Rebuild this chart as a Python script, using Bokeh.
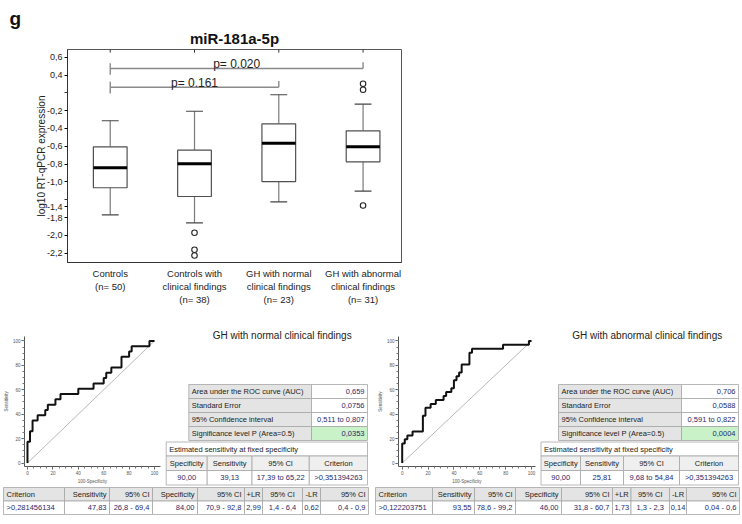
import numpy as np
from bokeh.plotting import figure
from bokeh.models import Range1d, FixedTicker, SingleIntervalTicker
from bokeh.layouts import column, row
from bokeh.embed import file_html
from bokeh.resources import INLINE
from bokeh.core.properties import value

FONT = "'Liberation Sans', Arial, sans-serif"

# ---------------- data: box plot ----------------
fig_letter = "g"
main_title = "miR-181a-5p"
group_pos = [1, 2, 3, 4]
group_labels = ["Controls\n(n= 50)",
                "Controls with\nclinical findings\n(n= 38)",
                "GH with normal\nclinical findings\n(n= 23)",
                "GH with abnormal\nclinical findings\n(n= 31)"]
lower_whisker = [-1.370, -1.460, -1.224, -1.104]
q1 = [-1.066, -1.164, -0.996, -0.774]
median = [-0.842, -0.797, -0.565, -0.606]
q3 = [-0.606, -0.644, -0.347, -0.426]
upper_whisker = [-0.313, -0.206, -0.021, -0.127]
outlier_group = [2, 2, 2, 4, 4, 4]
outlier_value = [-1.572, -1.763, -1.827, 0.102, 0.035, -1.265]

ytick_pos = [0.4, 0.2, -0.2, -0.4, -0.6, -0.8, -1.0, -1.28, -1.4, -1.6, -1.8]
ytick_labels = ["0,6", "0,4", "-0,2", "-0,4", "-0,6", "-0,8", "-1,0", "-1,4", "-1,8", "-2,0", "-2,2"]
ytick_unlabelled = [0.0, -1.2]

cmp_from = [1, 1]
cmp_to = [4, 3]
cmp_y = [0.274, 0.064]
cmp_text = ["p= 0.020", "p= 0.161"]

# ---------------- data: ROC curves ----------------
roc_normal_fpr = [0, 0, 2, 2, 4, 4, 8, 8, 14, 14, 16, 16, 22, 22, 26, 26, 40, 40, 52, 52,
                  60, 60, 62, 62, 66, 66, 74, 74, 80, 80, 82, 82, 96, 96, 100]
roc_normal_tpr = [0, 17.4, 17.4, 26.1, 26.1, 34.8, 34.8, 39.1, 39.1, 43.5, 43.5, 47.8, 47.8,
                  52.2, 52.2, 56.5, 56.5, 60.9, 60.9, 65.2, 65.2, 69.6, 69.6, 73.9, 73.9,
                  78.3, 78.3, 87.0, 87.0, 91.3, 91.3, 95.7, 95.7, 100, 100]
roc_abnormal_fpr = [0, 0, 2, 2, 4, 4, 8, 8, 16, 16, 18, 18, 22, 22, 26, 26, 32, 32, 34, 34,
                    38, 38, 40, 40, 42, 42, 44, 44, 46, 46, 52, 52, 54, 54, 78, 78, 98, 98, 100]
roc_abnormal_tpr = [0, 16.1, 16.1, 19.4, 19.4, 22.6, 22.6, 25.8, 25.8, 38.7, 38.7, 45.2, 45.2,
                    48.4, 48.4, 51.6, 51.6, 54.8, 54.8, 58.1, 58.1, 61.3, 61.3, 67.7, 67.7,
                    71.0, 71.0, 74.2, 74.2, 80.6, 80.6, 90.3, 90.3, 93.5, 93.5, 96.8, 96.8, 100, 100]
diag = [0, 100]

# ---------------- data: tables ----------------
panel_titles = ["GH with normal clinical findings", "GH with abnormal clinical findings"]
auc_labels = ["Area under the ROC curve (AUC)", "Standard Error",
              "95% Confidence interval", "Significance level P (Area=0.5)"]
auc_normal = ["0,659", "0,0756", "0,511 to 0,807", "0,0353"]
auc_abnormal = ["0,706", "0,0588", "0,591 to 0,822", "0,0004"]
fixed_title = "Estimated sensitivity at fixed specificity"
fixed_header = ["Specificity", "Sensitivity", "95% CI", "Criterion"]
fixed_normal = ["90,00", "39,13", "17,39 to 65,22", ">0,351394263"]
fixed_abnormal = ["90,00", "25,81", "9,68 to 54,84", ">0,351394263"]
crit_header = ["Criterion", "Sensitivity", "95% CI", "Specificity", "95% CI", "+LR", "95% CI", "-LR", "95% CI"]
crit_normal = [">0,281456134", "47,83", "26,8 - 69,4", "84,00", "70,9 - 92,8", "2,99", "1,4 - 6,4", "0,62", "0,4 - 0,9"]
crit_abnormal = [">0,122203751", "93,55", "78,6 - 99,2", "46,00", "31,8 - 60,7", "1,73", "1,3 - 2,3", "0,14", "0,04 - 0,6"]

# ---------------- styles ----------------
BORDER = "#a6a6a6"
VAL = "#1f2a6b"
TXT = "#222222"
GREY = "#e4e4e4"
HEAD = "#efefef"
GREEN = "#c9f2c9"


def no_align(f):
    try:
        f.frame_align = False
    except Exception:
        pass
    return f


def canvas(width, height, xr, yr):
    f = figure(width=width, height=height, x_range=Range1d(*xr), y_range=Range1d(*yr),
               output_backend="svg", toolbar_location=None, min_border=0,
               x_axis_type=None, y_axis_type=None)
    f.outline_line_color = None
    return no_align(f)


# ============ header (letter + title) ============
head = canvas(742, 47, (0, 742), (47, 0))
head.text(x=[9], y=[18], text=[fig_letter], text_align="left", text_baseline="alphabetic",
          text_font=value(FONT), text_font_size="19px", text_font_style="bold", text_color="#111111")
head.text(x=[234], y=[37.5], text=[main_title], text_align="center", text_baseline="alphabetic",
          text_font=value(FONT), text_font_size="15px", text_font_style="bold", text_color="#111111")

# ============ top: box plot ============
Y0, Y1 = -1.9056, 0.4876
top = figure(width=742, height=275, x_range=Range1d(0.493, 4.456), y_range=Range1d(Y0, Y1),
             output_backend="svg", toolbar_location=None,
             min_border_left=67, min_border_right=341, min_border_top=2, min_border_bottom=60)
no_align(top)
top.grid.visible = False
top.outline_line_color = "#555555"

xa = top.xaxis[0]
xa.ticker = FixedTicker(ticks=group_pos)
xa.major_label_overrides = {k: v for k, v in zip(group_pos, group_labels)}
xa.major_tick_in = 0
xa.major_tick_out = 0
xa.minor_tick_line_color = None
xa.major_label_text_font = FONT
xa.major_label_text_font_size = "9.5px"
xa.major_label_text_color = TXT
xa.major_label_standoff = 5
xa.axis_line_color = "#333333"

ya = top.yaxis[0]
ya.ticker = FixedTicker(ticks=ytick_pos, minor_ticks=ytick_unlabelled)
ya.major_label_overrides = {k: v for k, v in zip(ytick_pos, ytick_labels)}
ya.major_tick_in = 0
ya.major_tick_out = 3
ya.minor_tick_in = 0
ya.minor_tick_out = 3
ya.minor_tick_line_color = "#333333"
ya.major_label_text_font = FONT
ya.major_label_text_font_size = "9px"
ya.major_label_text_color = TXT
ya.major_label_standoff = 2
ya.axis_line_color = "#333333"
ya.axis_label = "log10 RT-qPCR expression"
ya.axis_label_text_font = FONT
ya.axis_label_text_font_size = "10px"
ya.axis_label_text_font_style = "normal"
ya.axis_label_text_color = TXT
ya.axis_label_standoff = -3

xs = np.array(group_pos, dtype=float)
half = 0.2
cap = 0.1
WH = "#7a7a7a"
top.segment(x0=xs, x1=xs, y0=q3, y1=upper_whisker, line_color=WH, line_width=1.2)
top.segment(x0=xs, x1=xs, y0=q1, y1=lower_whisker, line_color=WH, line_width=1.2)
top.segment(x0=xs - cap, x1=xs + cap, y0=upper_whisker, y1=upper_whisker, line_color="#444444", line_width=1.2)
top.segment(x0=xs - cap, x1=xs + cap, y0=lower_whisker, y1=lower_whisker, line_color="#444444", line_width=1.2)
top.quad(left=xs - half, right=xs + half, bottom=q1, top=q3, fill_color="white",
         line_color="#505050", line_width=1.2)
top.segment(x0=xs - half, x1=xs + half, y0=median, y1=median, line_color="black", line_width=3)
top.scatter(x=outlier_group, y=outlier_value, marker="circle", size=5.5, fill_color="white",
            line_color="#222222", line_width=1.1)
# small inward ticks on the top frame edge at each group
top.segment(x0=xs, x1=xs, y0=[Y1] * 4, y1=[Y1 - 0.035] * 4, line_color="#333333", line_width=1)

cf = np.array(cmp_from, dtype=float)
ct = np.array(cmp_to, dtype=float)
cy = np.array(cmp_y)
BR = "#8a8a8a"
top.segment(x0=cf, x1=ct, y0=cy, y1=cy, line_color=BR, line_width=1.4)
top.segment(x0=cf, x1=cf, y0=cy + 0.06, y1=cy - 0.07, line_color=BR, line_width=1.4)
top.segment(x0=ct, x1=ct, y0=cy + 0.07, y1=cy, line_color=BR, line_width=1.4)
top.text(x=(cf + ct) / 2, y=cy + 0.05, text=cmp_text, text_align="center", text_baseline="alphabetic",
         text_font=value(FONT), text_font_size="12px", text_color="#222222")


# ============ bottom: ROC curves ============
def roc_figure(width, border_left, xr, fpr, tpr):
    f = figure(width=width, height=164, x_range=Range1d(*xr), y_range=Range1d(-2.82, 103.6),
               output_backend="svg", toolbar_location=None,
               min_border_left=border_left, min_border_right=3, min_border_top=14, min_border_bottom=18)
    no_align(f)
    f.grid.visible = False
    f.outline_line_color = None
    f.line(diag, diag, line_color="#9a9a9a", line_width=0.7)
    f.line(fpr, tpr, line_color="#111111", line_width=2)
    for ax in (f.xaxis[0], f.yaxis[0]):
        ax.ticker = SingleIntervalTicker(interval=20, num_minor_ticks=4)
        ax.axis_line_color = "#555555"
        ax.major_tick_line_color = "#555555"
        ax.minor_tick_line_color = "#777777"
        ax.major_tick_out = 3
        ax.major_tick_in = 0
        ax.minor_tick_out = 2
        ax.minor_tick_in = 0
        ax.major_label_text_font = FONT
        ax.major_label_text_font_size = "4.5px"
        ax.major_label_text_color = "#555555"
        ax.major_label_standoff = 1
        ax.axis_label_text_font = FONT
        ax.axis_label_text_font_size = "4.5px"
        ax.axis_label_text_font_style = "normal"
        ax.axis_label_text_color = "#555555"
        ax.axis_label_standoff = 1
    f.xaxis.axis_label = "100-Specificity"
    f.yaxis.axis_label = "Sensitivity"
    return f


def cell_row(f, edges, ytop, ybot, fills):
    n = len(edges) - 1
    f.quad(left=edges[:-1], right=edges[1:], top=[ytop] * n, bottom=[ybot] * n,
           fill_color=fills, line_color=BORDER, line_width=0.8)


def text_row(f, edges, y, texts, aligns, color, size="7.5px"):
    groups = {}
    for i, t in enumerate(texts):
        l, r = edges[i], edges[i + 1]
        a = aligns[i]
        x = l + 3 if a == "left" else (r - 3 if a == "right" else (l + r) / 2)
        groups.setdefault(a, ([], [], []))
        groups[a][0].append(x)
        groups[a][1].append(y)
        groups[a][2].append(t)
    for a, (gx, gy, gt) in groups.items():
        f.text(x=gx, y=gy, text=gt, text_align=a, text_baseline="middle",
               text_font=value(FONT), text_font_size=size, text_color=color)


auc_rows = [384, 398, 412, 426, 440]
fixed_rows = [441.5, 455.5, 470, 484.5]
crit_rows = [487, 500.5, 514]


def draw_tables(f, title, title_x, auc_cols, auc_vals, fixed_cols, fixed_vals):
    f.text(x=[title_x], y=[335], text=[title], text_align="center", text_baseline="middle",
           text_font=value(FONT), text_font_size="10px", text_color=TXT)
    for i in range(4):
        fills = [GREY, GREEN if i == 3 else "white"]
        cell_row(f, auc_cols, auc_rows[i], auc_rows[i + 1], fills)
        ym = (auc_rows[i] + auc_rows[i + 1]) / 2
        text_row(f, auc_cols[:2], ym, [auc_labels[i]], ["left"], TXT)
        text_row(f, auc_cols[1:], ym, [auc_vals[i]], ["right"], VAL)
    cell_row(f, [fixed_cols[0], fixed_cols[-1]], fixed_rows[0], fixed_rows[1], ["white"])
    text_row(f, [fixed_cols[0], fixed_cols[-1]], (fixed_rows[0] + fixed_rows[1]) / 2,
             [fixed_title], ["left"], TXT)
    cell_row(f, fixed_cols, fixed_rows[1], fixed_rows[2], [HEAD] * 4)
    text_row(f, fixed_cols, (fixed_rows[1] + fixed_rows[2]) / 2, fixed_header, ["center"] * 4, TXT)
    cell_row(f, fixed_cols, fixed_rows[2], fixed_rows[3], ["white"] * 4)
    text_row(f, fixed_cols, (fixed_rows[2] + fixed_rows[3]) / 2, fixed_vals, ["center"] * 4, VAL)


def draw_crit(f, cols, vals):
    cell_row(f, cols, crit_rows[0], crit_rows[1], [GREY] * 9)
    text_row(f, cols, (crit_rows[0] + crit_rows[1]) / 2, crit_header,
             ["left", "right", "right", "right", "right", "center", "center", "center", "right"], TXT)
    cell_row(f, cols, crit_rows[1], crit_rows[2], ["white"] * 9)
    text_row(f, cols, (crit_rows[1] + crit_rows[2]) / 2, vals,
             ["left", "right", "right", "right", "right", "center", "center", "center", "right"], VAL)


roc1 = roc_figure(163, 23, (-2.34, 104.7), roc_normal_fpr, roc_normal_tpr)
roc2 = roc_figure(166, 26, (-2.86, 103.1), roc_abnormal_fpr, roc_abnormal_tpr)

tab1 = canvas(209, 164, (163, 372), (486, 322))
draw_tables(tab1, panel_titles[0], 281.7, [188.3, 311, 367], auc_normal,
            [165.7, 206.7, 251.5, 308.8, 367], fixed_normal)
tab2 = canvas(204, 164, (538, 742), (486, 322))
draw_tables(tab2, panel_titles[1], 646.7, [558, 681, 738], auc_abnormal,
            [540.5, 580, 623, 679, 738], fixed_abnormal)

bot1 = canvas(372, 29, (0, 372), (515, 486))
draw_crit(bot1, [3, 64, 109, 152, 197, 244, 262, 302, 320, 368], crit_normal)
bot2 = canvas(370, 29, (372, 742), (515, 486))
draw_crit(bot2, [375, 432, 474, 515, 561, 612, 630.5, 669, 686, 739], crit_abnormal)

panel1 = column(row(roc1, tab1), bot1)
panel2 = column(row(roc2, tab2), bot2)
layout = column(head, top, row(panel1, panel2))

open("out.html", "w").write(file_html(layout, INLINE))
